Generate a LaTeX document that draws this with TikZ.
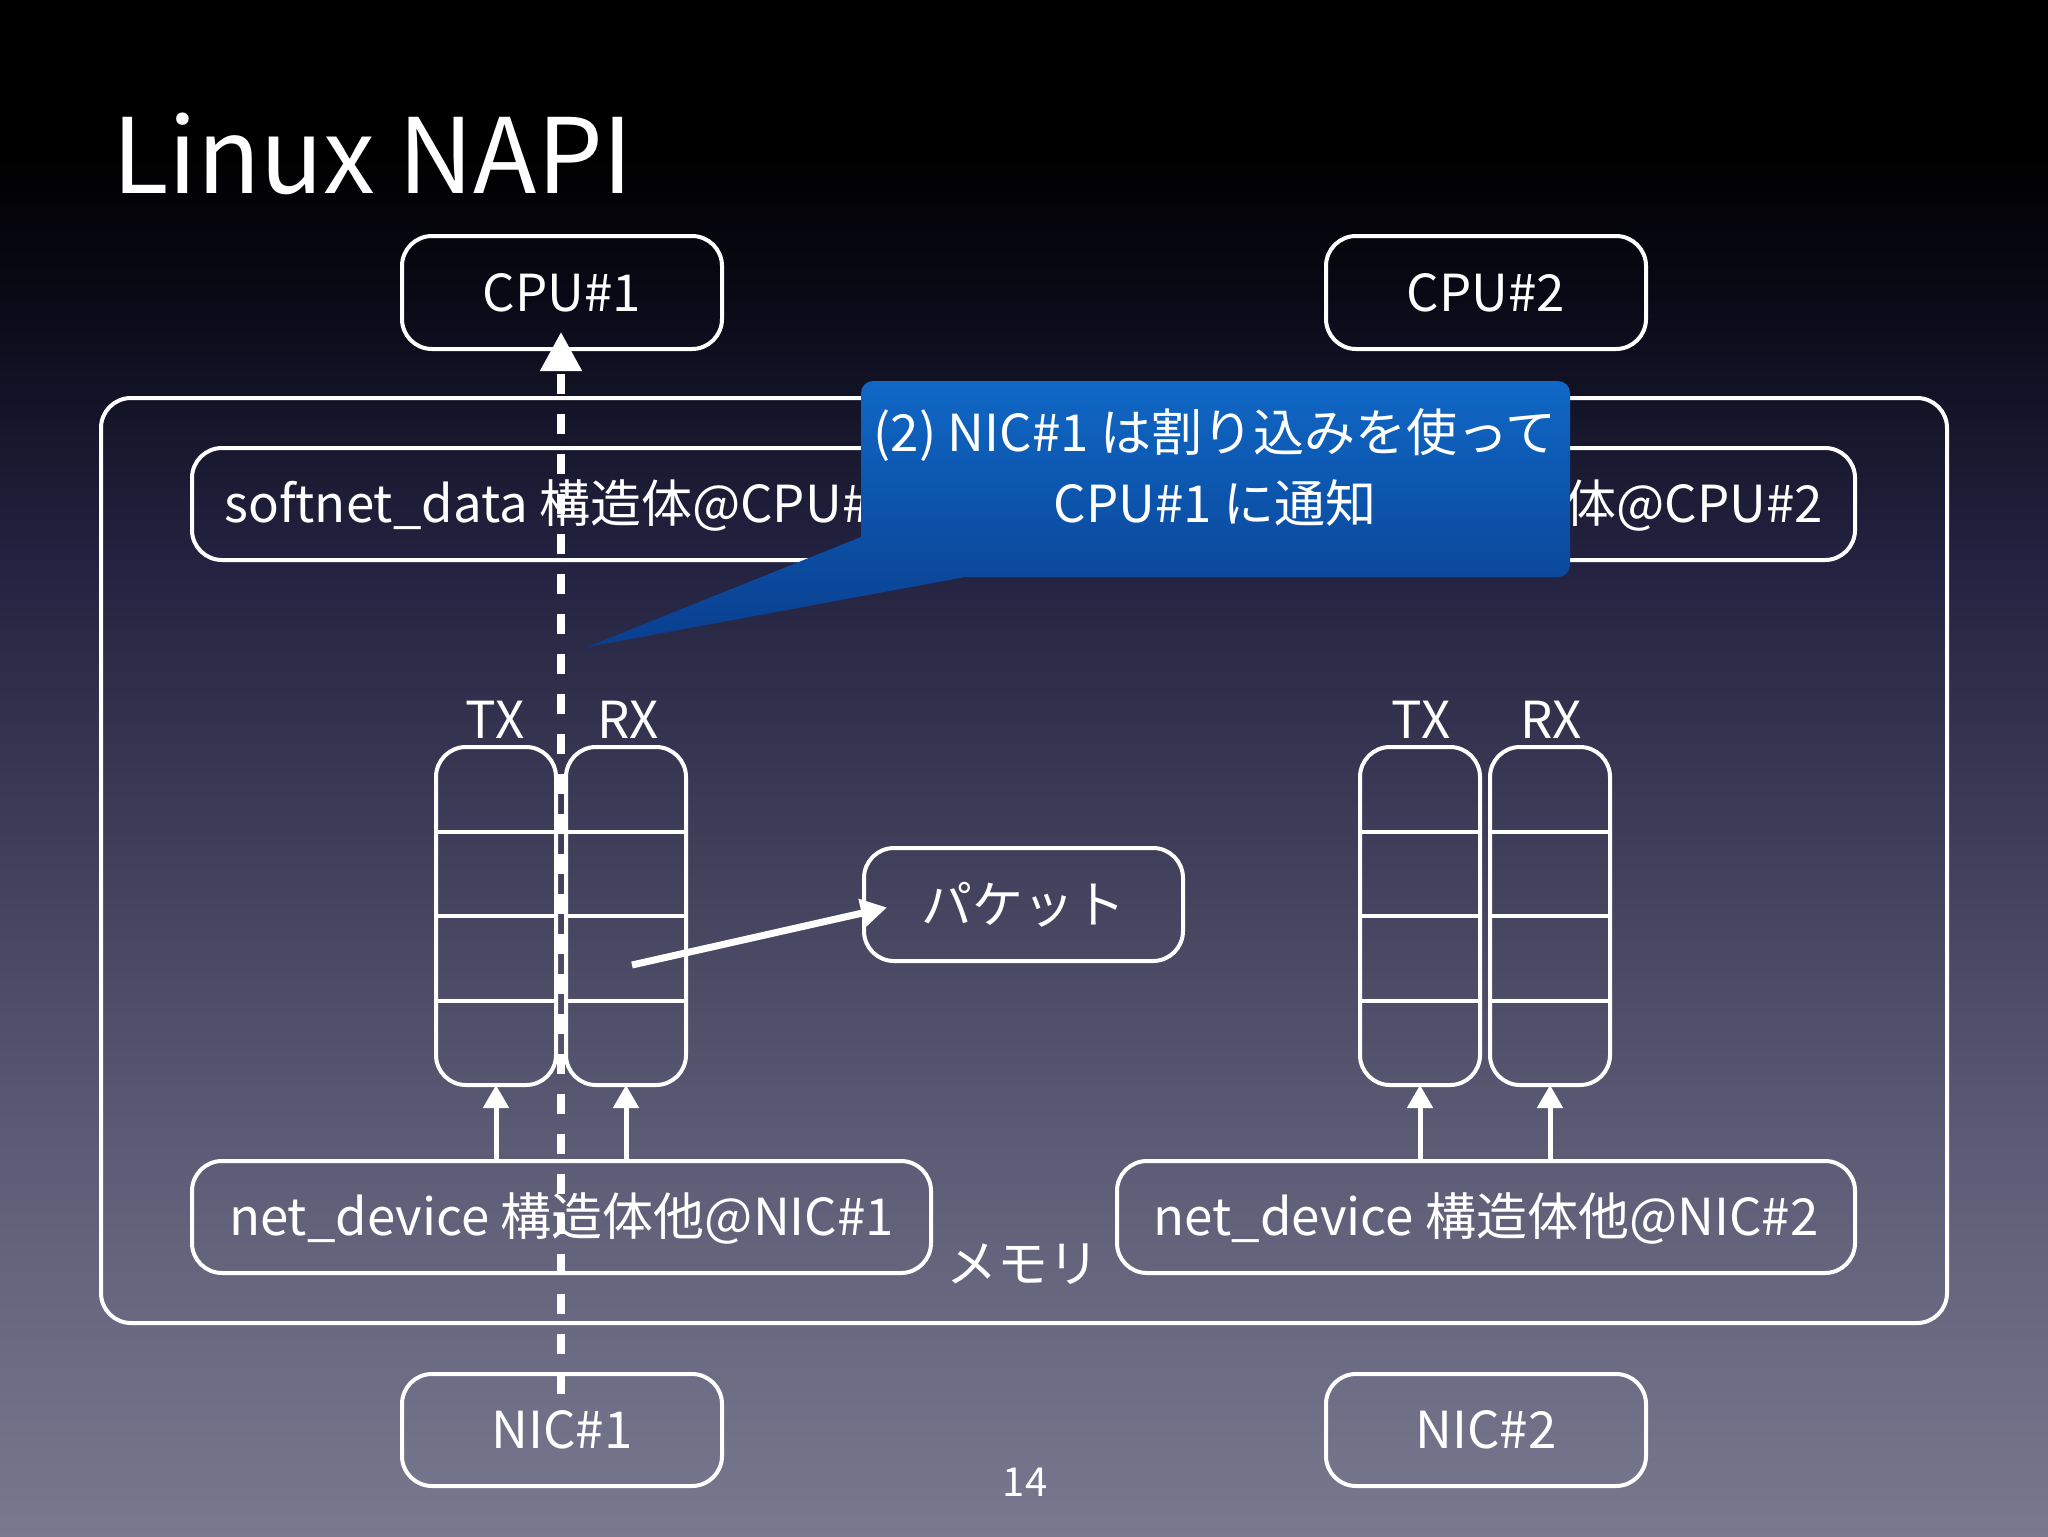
\documentclass[tikz,border=0pt]{standalone}
\usepackage{fontspec}
\setmainfont{Noto Sans CJK JP}
\usetikzlibrary{arrows.meta,calc}
\definecolor{bgA}{HTML}{78788F}
\definecolor{bgB}{HTML}{5C5C76}
\definecolor{bgC}{HTML}{3A3A56}
\definecolor{bgD}{HTML}{222240}
\definecolor{bgE}{HTML}{0A0A18}
\definecolor{cT}{HTML}{1068C6}
\definecolor{cM}{HTML}{0C56AE}
\definecolor{cB}{HTML}{0A3E8E}
\pgfdeclareverticalshading{bgshade}{100bp}{color(0bp)=(bgA); color(25bp)=(bgA); color(37.5bp)=(bgB); color(49bp)=(bgC); color(57bp)=(bgD); color(65bp)=(bgE); color(70bp)=(black); color(100bp)=(black)}
\pgfdeclareverticalshading{callshade}{100bp}{color(0bp)=(cB); color(25bp)=(cB); color(55bp)=(cM); color(75bp)=(cT); color(100bp)=(cT)}
\tikzset{
  boxsty/.style={draw=white, line width=2pt, rounded corners=15pt, inner sep=0pt, outer sep=0pt,
    text=white, font=\fontsize{25.5}{30}\selectfont, text height=23pt, text depth=4.4pt},
  queuesty/.style={draw=white, line width=2pt, rounded corners=15pt, inner sep=0pt, outer sep=0pt,
    minimum width=60pt, minimum height=169pt},
  qline/.style={draw=white, line width=2pt},
  lbl/.style={inner sep=0pt, outer sep=0pt, text=white, font=\fontsize{25.5}{30}\selectfont,
    text height=23pt, text depth=4.4pt},
  arrsm/.style={draw=white, line width=2.5pt, -{Triangle[length=11.5pt,width=12.5pt]}},
  arrpkt/.style={draw=white, line width=3.5pt, -{Triangle[length=13pt,width=14pt]}},
  dasharr/.style={draw=white, line width=4pt, dash pattern=on 10pt off 10pt, -{Triangle[length=19.5pt,width=20pt]}},
  calltext/.style={inner sep=0pt, outer sep=0pt, text=white, font=\fontsize{25.5}{30}\selectfont, anchor=base},
}
\begin{document}
\begin{tikzpicture}[x=0.5pt,y=-0.5pt]
\useasboundingbox (0,0) rectangle (2048,1536);
\shade[shading=bgshade] (0,0) rectangle (2048,1536);

% title
\node[inner sep=0pt, outer sep=0pt, text=white, font=\fontsize{52}{60}\selectfont, anchor=base west] (title) at (112,193) {Linux NAPI};

% memory
\node[boxsty, minimum width=923pt, minimum height=462.5pt] (mem) at (1024,860.5) {};
\node[lbl] (memlbl) at (1023,1264) {メモリ};

% CPUs
\node[boxsty, minimum width=160pt, minimum height=56.5pt] (cpu1) at (562,292.5) {CPU\#1};
\node[boxsty, minimum width=160pt, minimum height=56.5pt] (cpu2) at (1486,292.5) {CPU\#2};

% softnet_data
\node[boxsty, minimum width=369.5pt, minimum height=56pt] (sd1) at (561.5,504) {softnet\_data 構造体@CPU\#1};
\node[boxsty, minimum width=369pt, minimum height=56pt] (sd2) at (1486,504) {softnet\_data 構造体@CPU\#2};

% queues
\node[queuesty] (tx1) at (496,916) {};
\node[queuesty] (rx1) at (626,916) {};
\node[queuesty] (tx2) at (1420,916) {};
\node[queuesty] (rx2) at (1550,916) {};
\foreach \q in {tx1,rx1,tx2,rx2}{
  \foreach \d in {-84.5,0,84.5}{
    \draw[qline] ($(\q.west)+(0,\d)$) -- ($(\q.east)+(0,\d)$);
  }
}
\node[lbl] (tx1l) at ($(tx1.north)+(-1,-27)$) {TX};
\node[lbl] (rx1l) at ($(rx1.north)+(2,-27)$) {RX};
\node[lbl] (tx2l) at ($(tx2.north)+(1,-27)$) {TX};
\node[lbl] (rx2l) at ($(rx2.north)+(1,-27)$) {RX};

% packet
\node[boxsty, minimum width=159.5pt, minimum height=56.5pt] (pkt) at (1023.5,904.5) {パケット};
\coordinate (pktsrc) at (632,965);
\draw[arrpkt] (pktsrc) -- ($(pkt.west)+(23,3)$);

% net_device
\node[boxsty, minimum width=369.5pt, minimum height=56pt] (net1) at (561.5,1217) {net\_device 構造体他@NIC\#1};
\node[boxsty, minimum width=369pt, minimum height=56pt] (net2) at (1486,1217) {net\_device 構造体他@NIC\#2};

% NICs
\node[boxsty, minimum width=160pt, minimum height=56pt] (nic1) at (562,1430) {NIC\#1};
\node[boxsty, minimum width=160pt, minimum height=56pt] (nic2) at (1486,1430) {NIC\#2};

% arrows net_device -> queues
\draw[arrsm] (net1.north -| tx1.south) -- (tx1.south);
\draw[arrsm] (net1.north -| rx1.south) -- (rx1.south);
\draw[arrsm] (net2.north -| tx2.south) -- (tx2.south);
\draw[arrsm] (net2.north -| rx2.south) -- (rx2.south);

% interrupt NIC#1 -> CPU#1
\draw[dasharr] ($(nic1.north)+(-1,20)$) -- ($(cpu1.south)+(-1,-17)$);

% callout
\shade[shading=callshade] (587,647) -- (861,537) [rounded corners=6pt] -- (861,381) -- (1570,381) -- (1570,577) [sharp corners] -- (965,577) -- cycle;
\node[calltext] (call1) at (1215,451) {(2) NIC\#1 は割り込みを使って};
\node[calltext] (call2) at (1215,522) {CPU\#1 に通知};

% page number
\node[inner sep=0pt, outer sep=0pt, text=white, font=\fontsize{20}{24}\selectfont, anchor=base] (pg) at (1025,1496) {14};
\end{tikzpicture}
\end{document}
